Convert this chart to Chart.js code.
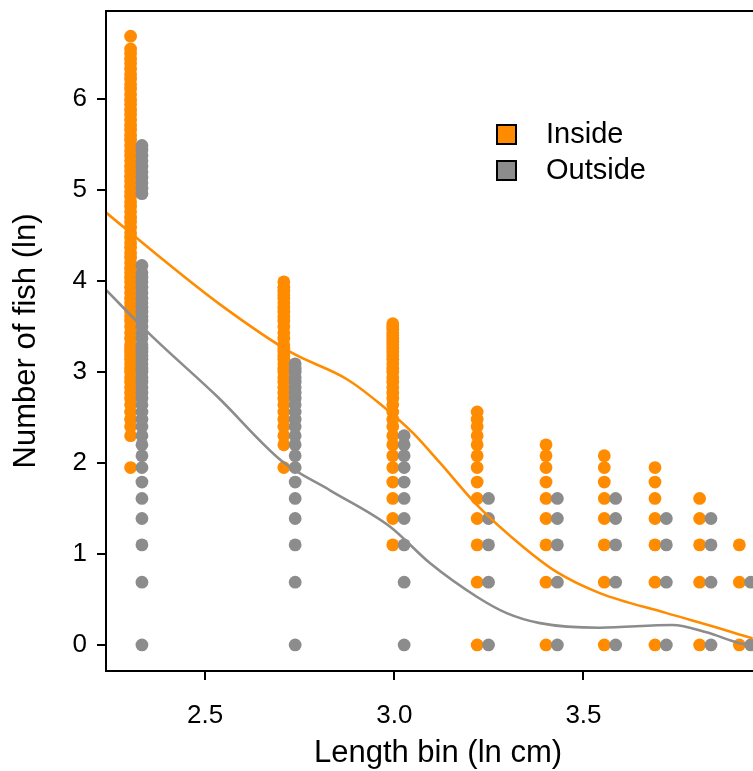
<!DOCTYPE html>
<html>
<head>
<meta charset="utf-8">
<script src="https://cdn.jsdelivr.net/npm/chart.js@4"></script>
<style>
  html, body { margin: 0; padding: 0; background: #fff; overflow: hidden; }
  #wrap { width: 790px; height: 771px; }
</style>
</head>
<body>
<div id="wrap"><canvas id="fish" width="790" height="771"></canvas></div>
<script>
/* ── Data: length bins (ln cm) and ln(number of fish) per bin ── */
const insideBins  = [2.303, 2.708, 2.996, 3.219, 3.401, 3.555, 3.689, 3.807, 3.912];
const outsideBins = [2.333, 2.738, 3.026, 3.249, 3.431, 3.585, 3.719, 3.837, 3.942];

const inside10 = [1.95, 2.30, 2.40, 2.48, 2.56, 2.64, 2.71, 2.77, 2.83, 2.89, 2.94, 3.00, 3.04, 3.09, 3.14,
  3.18, 3.22, 3.26, 3.30, 3.37, 3.43, 3.50, 3.56, 3.61, 3.66, 3.71, 3.76, 3.81, 3.87, 3.93, 3.99, 4.04, 4.09,
  4.14, 4.20, 4.26, 4.31, 4.37, 4.42, 4.48, 4.53, 4.59, 4.65, 4.70, 4.76, 4.82, 4.87, 4.93, 4.98, 5.04, 5.10,
  5.15, 5.21, 5.26, 5.32, 5.38, 5.43, 5.49, 5.55, 5.60, 5.66, 5.71, 5.77, 5.83, 5.88, 5.94, 5.99, 6.05, 6.11,
  6.16, 6.22, 6.27, 6.33, 6.39, 6.44, 6.50, 6.55, 6.69];
const inside15 = [1.95, 2.20, 2.30, 2.40, 2.48, 2.56, 2.64, 2.71, 2.77, 2.83, 2.89, 2.94, 3.00, 3.04, 3.09,
  3.14, 3.18, 3.22, 3.26, 3.30, 3.37, 3.43, 3.50, 3.56, 3.61, 3.66, 3.71, 3.76, 3.81, 3.85, 3.89, 3.93, 3.99];
const inside20 = [1.10, 1.39, 1.61, 1.79, 1.95, 2.08, 2.20, 2.30, 2.40, 2.48, 2.56, 2.64, 2.71, 2.77, 2.83,
  2.89, 2.94, 3.00, 3.04, 3.09, 3.14, 3.18, 3.22, 3.26, 3.30, 3.33, 3.37, 3.40, 3.43, 3.47, 3.50, 3.53];
const inside25 = [0, 0.69, 1.10, 1.39, 1.61, 1.79, 1.95, 2.08, 2.20, 2.30, 2.40, 2.48, 2.56];
const inside30 = [0, 0.69, 1.10, 1.39, 1.61, 1.79, 1.95, 2.08, 2.20];
const inside35 = [0, 0.69, 1.10, 1.39, 1.61, 1.79, 1.95, 2.08];
const inside40 = [0, 0.69, 1.10, 1.39, 1.61, 1.79, 1.95];
const inside45 = [0, 0.69, 1.10, 1.39, 1.61];
const inside50 = [0, 0.69, 1.10];

const outside10 = [0, 0.69, 1.10, 1.39, 1.61, 1.79, 1.95, 2.08, 2.20, 2.30, 2.40, 2.48, 2.56, 2.64, 2.71,
  2.77, 2.83, 2.89, 2.94, 3.00, 3.04, 3.09, 3.14, 3.18, 3.22, 3.26, 3.30, 3.37, 3.43, 3.50, 3.56, 3.61, 3.66,
  3.71, 3.76, 3.81, 3.87, 3.93, 3.99, 4.04, 4.09, 4.17, 4.96, 5.02, 5.08, 5.14, 5.20, 5.26, 5.32, 5.38, 5.44, 5.49];
const outside15 = [0, 0.69, 1.10, 1.39, 1.61, 1.79, 1.95, 2.08, 2.20, 2.30, 2.40, 2.48, 2.56, 2.64, 2.71,
  2.77, 2.83, 2.89, 2.94, 3.00, 3.04, 3.09];
const outside20 = [0, 0.69, 1.10, 1.39, 1.61, 1.79, 1.95, 2.08, 2.20, 2.30];
const outside25 = [0, 0.69, 1.10, 1.39, 1.61];
const outside30 = [0, 0.69, 1.10, 1.39, 1.61];
const outside35 = [0, 0.69, 1.10, 1.39, 1.61];
const outside40 = [0, 0.69, 1.10, 1.39];
const outside45 = [0, 0.69, 1.10, 1.39];
const outside50 = [0, 0.69];

const insideCounts  = [inside10, inside15, inside20, inside25, inside30, inside35, inside40, inside45, inside50];
const outsideCounts = [outside10, outside15, outside20, outside25, outside30, outside35, outside40, outside45, outside50];

/* smoothed trend lines */
const insideCurveX = [2.236, 2.381, 2.540, 2.725, 2.875, 2.962, 3.049, 3.121, 3.218, 3.340, 3.430, 3.543,
  3.720, 3.878, 3.947];
const insideCurveY = [4.76, 4.26, 3.74, 3.22, 2.92, 2.65, 2.33, 2.00, 1.54, 1.08, 0.80, 0.57,
  0.35, 0.16, 0.07];
const outsideCurveX = [2.236, 2.355, 2.532, 2.706, 2.830, 2.989, 3.094, 3.218, 3.297, 3.385, 3.543, 3.735,
  3.825, 3.913, 3.947];
const outsideCurveY = [3.91, 3.41, 2.73, 2.01, 1.70, 1.30, 0.90, 0.53, 0.35, 0.24, 0.19, 0.22,
  0.14, 0.02, 0.00];

const xTicks = [2.5, 3.0, 3.5];
const yTicks = [0, 1, 2, 3, 4, 5, 6];
const legendLabels = ['Inside', 'Outside'];

const ORANGE = '#FF8C00';
const GREY   = '#8C8C8C';
const FONT   = "'Liberation Sans', Arial, sans-serif";

/* build {x,y} points from the bin arrays */
const toPoints = (bins, counts) =>
  counts.flatMap((ys, i) => ys.map(y => ({ x: bins[i], y })));
const toCurve = (xs, ys) => xs.map((x, i) => ({ x, y: ys[i] }));

/* box around the plot region (R style) */
const boxPlugin = {
  id: 'box',
  afterDraw(chart) {
    const { ctx, chartArea: a } = chart;
    ctx.save();
    ctx.strokeStyle = '#000';
    ctx.lineWidth = 2;
    ctx.strokeRect(a.left, a.top, a.right - a.left, a.bottom - a.top);
    ctx.restore();
  }
};

/* legend with outlined squares, placed in the plot like R's legend() */
const legendPlugin = {
  id: 'squareLegend',
  afterDraw(chart) {
    const ctx = chart.ctx;
    const fills = [ORANGE, GREY];
    ctx.save();
    ctx.font = `29px ${FONT}`;
    ctx.textBaseline = 'middle';
    legendLabels.forEach((lab, i) => {
      const cy = 134 + i * 36;
      ctx.fillStyle = fills[i];
      ctx.fillRect(497, cy - 9, 19, 19);
      ctx.strokeStyle = '#000';
      ctx.lineWidth = 2;
      ctx.strokeRect(497, cy - 9, 19, 19);
      ctx.fillStyle = '#000';
      ctx.fillText(lab, 546, cy + 1);
    });
    ctx.restore();
  }
};

Chart.defaults.color = '#000';
Chart.defaults.font.family = FONT;

new Chart(document.getElementById('fish'), {
  type: 'scatter',
  data: {
    datasets: [
      { label: 'Inside trend', data: toCurve(insideCurveX, insideCurveY), showLine: true,
        borderColor: ORANGE, borderWidth: 2.6, pointRadius: 0, cubicInterpolationMode: 'monotone', order: 0 },
      { label: 'Outside trend', data: toCurve(outsideCurveX, outsideCurveY), showLine: true,
        borderColor: GREY, borderWidth: 2.6, pointRadius: 0, cubicInterpolationMode: 'monotone', order: 0 },
      { label: 'Outside', data: toPoints(outsideBins, outsideCounts),
        backgroundColor: GREY, borderWidth: 0, pointRadius: 6.4, order: 1 },
      { label: 'Inside', data: toPoints(insideBins, insideCounts),
        backgroundColor: ORANGE, borderWidth: 0, pointRadius: 6.4, order: 2 },
    ]
  },
  options: {
    responsive: false,
    animation: false,
    events: [],
    layout: { padding: { top: 11, right: 20, left: 0, bottom: 0 } },
    plugins: { legend: { display: false }, tooltip: { enabled: false } },
    scales: {
      x: {
        type: 'linear', min: 2.238, max: 3.993,
        afterFit: s => { s.height = 100; s.paddingLeft = 0; s.paddingRight = 0; },
        afterBuildTicks: s => { s.ticks = xTicks.map(v => ({ value: v })); },
        grid: { drawOnChartArea: false, drawTicks: true, tickLength: 9, color: '#000', lineWidth: 2 },
        border: { display: false },
        ticks: { font: { size: 26 }, padding: 20, callback: v => v.toFixed(1) },
        title: { display: true, text: 'Length bin (ln cm)', font: { size: 31, lineHeight: 1 },
                 padding: { top: 0, bottom: 2 } }
      },
      y: {
        type: 'linear', min: -0.286, max: 6.967,
        afterFit: s => { s.width = 106; s.paddingTop = 0; s.paddingBottom = 0; },
        afterBuildTicks: s => { s.ticks = yTicks.map(v => ({ value: v })); },
        grid: { drawOnChartArea: false, drawTicks: true, tickLength: 9, color: '#000', lineWidth: 2 },
        border: { display: false },
        ticks: { font: { size: 26 }, padding: 10 },
        title: { display: true, text: 'Number of fish (ln)', font: { size: 31, lineHeight: 1 },
                 padding: { top: 11, bottom: 0 } }
      }
    }
  },
  plugins: [boxPlugin, legendPlugin]
});
</script>
</body>
</html>
